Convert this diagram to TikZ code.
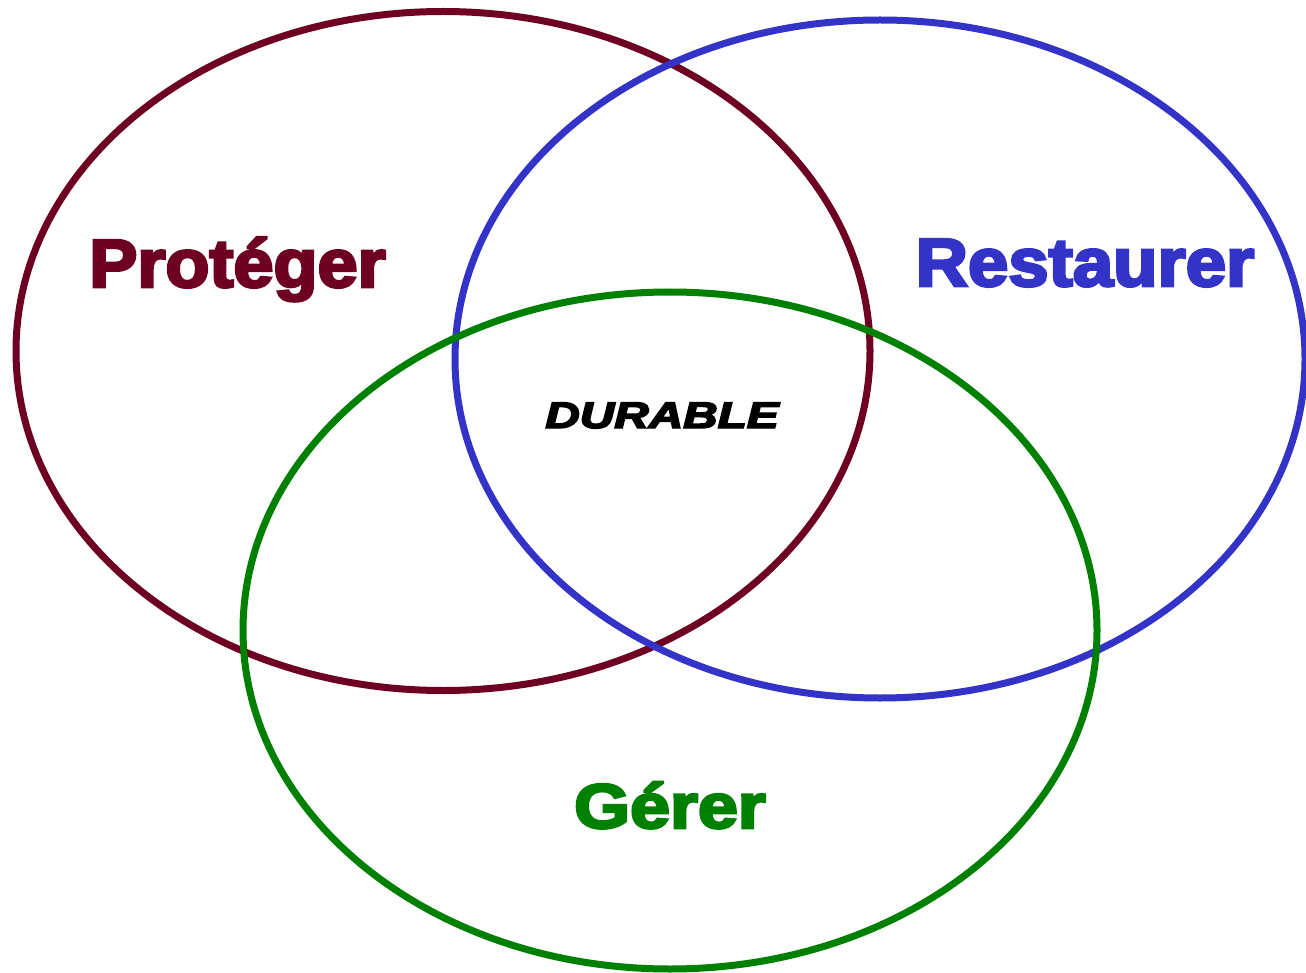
\documentclass[tikz,border=0pt]{standalone}
\usepackage{fontspec}
\setmainfont{Liberation Sans}
\newfontfamily\heavyfont[FakeBold=4]{Liberation Sans Bold}
\newfontfamily\heavyit[FakeBold=4]{Liberation Sans Bold Italic}
\definecolor{cmaroon}{RGB}{110,0,34}
\definecolor{cblue}{RGB}{51,51,200}
\definecolor{cgreen}{RGB}{0,128,0}
\begin{document}
\begin{tikzpicture}[x=1pt,y=-1pt,
  ring/.style={line width=7pt},
  lbl/.style={anchor=base,inner sep=0pt,font=\heavyfont\fontsize{68}{70}\selectfont}]
\useasboundingbox (0,0) rectangle (1306,973);
\draw[ring,cmaroon] (443,351) ellipse [x radius=427, y radius=339.5];
\draw[ring,cblue] (880,359) ellipse [x radius=425, y radius=339];
\draw[ring,cgreen] (670,630.5) ellipse [x radius=427, y radius=338.5];
\node[lbl,text=cmaroon] (prot) at (237.5,287) {\scalebox{1.06}[1]{Protéger}};
\node[lbl,text=cblue] (rest) at (1085,286) {\scalebox{1.067}[1]{Restaurer}};
\node[lbl,text=cgreen,font=\heavyfont\fontsize{63}{66}\selectfont] (gere) at (670,828) {\scalebox{1.14}[1]{Gérer}};
\node[anchor=base,inner sep=0pt,font=\heavyit\fontsize{37}{40}\selectfont] (dur) at (662,428) {\scalebox{1.29}[1]{DURABLE}};
\end{tikzpicture}
\end{document}
